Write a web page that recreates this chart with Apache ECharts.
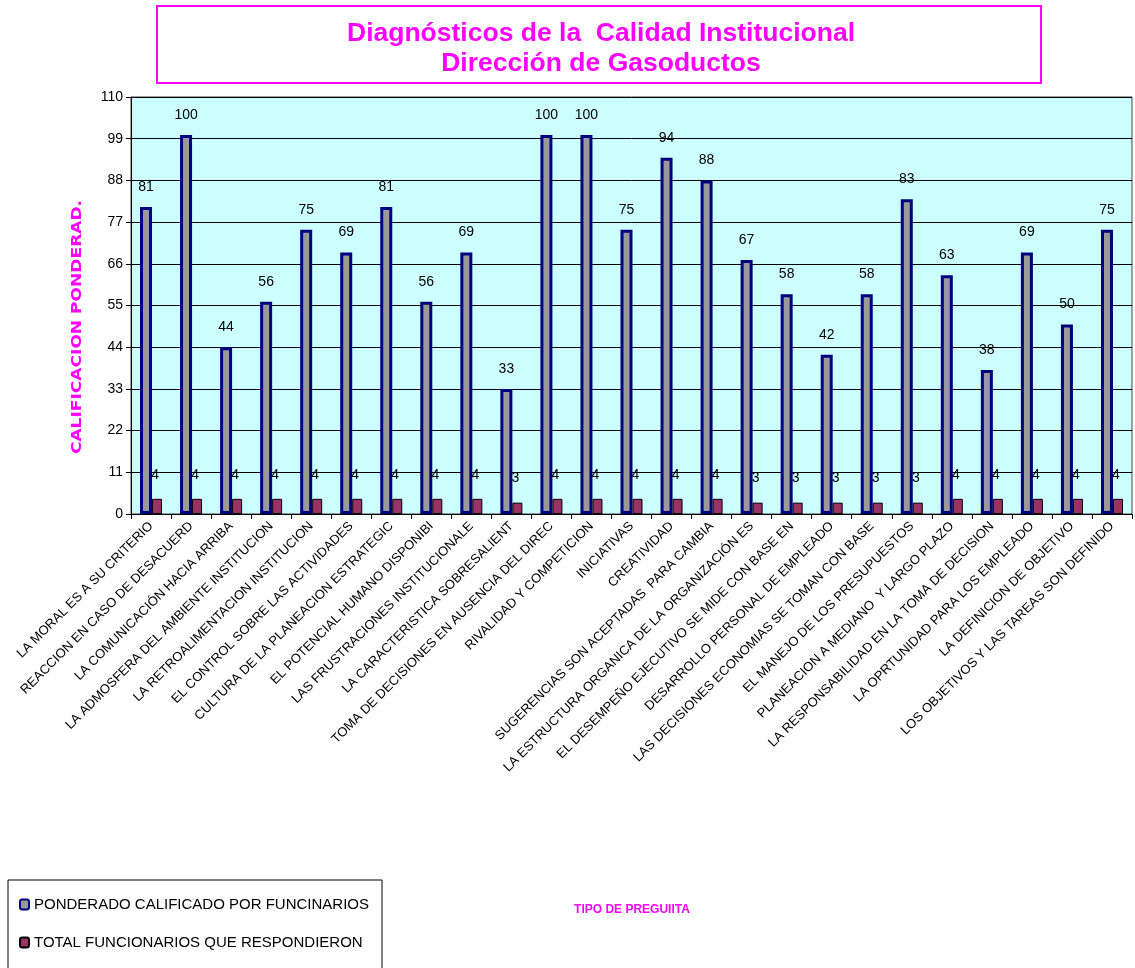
<!DOCTYPE html>
<html>
<head>
<meta charset="utf-8">
<script src="https://cdn.jsdelivr.net/npm/echarts@6/dist/echarts.min.js"></script>
<style>html,body{margin:0;padding:0;background:#fff}#c{width:1135px;height:968px}</style>
</head>
<body>
<div id="c"></div>
<script>
const categories = [
  "LA MORAL ES A SU CRITERIO",
  "REACCION EN CASO DE DESACUERD",
  "LA COMUNICACIÓN HACIA ARRIBA",
  "LA ADMOSFERA DEL AMBIENTE INSTITUCION",
  "LA RETROALIMENTACION INSTITUCION",
  "EL CONTROL SOBRE LAS ACTIVIDADES",
  "CULTURA DE LA PLANEACION ESTRATEGIC",
  "EL POTENCIAL HUMANO DISPONIBI",
  "LAS FRUSTRACIONES INSTITUCIONALE",
  "LA CARACTERISTICA SOBRESALIENT",
  "TOMA DE DECISIONES EN AUSENCIA DEL DIREC",
  "RIVALIDAD Y COMPETICION",
  "INICIATIVAS",
  "CREATIVIDAD",
  "SUGERENCIAS SON ACEPTADAS  PARA CAMBIA",
  "LA ESTRUCTURA ORGANICA DE LA ORGANIZACIÓN ES",
  "EL DESEMPEÑO EJECUTIVO SE MIDE CON BASE EN",
  "DESARROLLO PERSONAL DE EMPLEADO",
  "LAS DECISIONES ECONOMIAS SE TOMAN CON BASE",
  "EL MANEJO DE LOS PRESUPUESTOS",
  "PLANEACION A MEDIANO  Y LARGO PLAZO",
  "LA RESPONSABILIDAD EN LA TOMA DE DECISION",
  "LA OPRTUNIDAD PARA LOS EMPLEADO",
  "LA DEFINICION DE OBJETIVO",
  "LOS OBJETIVOS Y LAS TAREAS SON DEFINIDO"
];
const ponderado = [81,100,44,56,75,69,81,56,69,33,100,100,75,94,88,67,58,42,58,83,63,38,69,50,75];
const funcionarios = [4,4,4,4,4,4,4,4,4,3,4,4,4,4,4,3,3,3,3,3,4,4,4,4,4];
const seriesNames = ["PONDERADO CALIFICADO POR FUNCINARIOS","TOTAL FUNCIONARIOS QUE RESPONDIERON"];
const titleLines = ["Diagnósticos de la  Calidad Institucional","Dirección de Gasoductos"];
const yAxisTitle = "CALIFICACION PONDERAD.";
const xAxisTitle = "TIPO DE PREGUIITA";

const chart = echarts.init(document.getElementById('c'));
const FONT = '"Liberation Sans", Arial, sans-serif';
chart.setOption({
  animation: false,
  backgroundColor: '#ffffff',
  graphic: [
    {type:'rect', shape:{x:157,y:6,width:884,height:77}, style:{fill:'#fff',stroke:'#ff00ff',lineWidth:2}},
    {type:'text', x:601, y:34, style:{text:titleLines[0], font:'bold 26.5px '+FONT, fill:'#ff00ff', align:'center', verticalAlign:'middle'}},
    {type:'text', x:601, y:64, style:{text:titleLines[1], font:'bold 26.5px '+FONT, fill:'#ff00ff', align:'center', verticalAlign:'middle'}},
    {type:'text', x:77, y:327, rotation:Math.PI/2, scaleX:1.1, scaleY:0.92, style:{text:yAxisTitle, font:'bold 15.5px "DejaVu Sans", sans-serif', fill:'#ff00ff', align:'center', verticalAlign:'middle'}},
    {type:'text', x:632, y:910, style:{text:xAxisTitle, font:'bold 12px '+FONT, fill:'#ff00ff', align:'center', verticalAlign:'middle'}},
    {type:'rect', shape:{x:8,y:880,width:374,height:100}, style:{fill:'#fff',stroke:'#000',lineWidth:1}, z:-1}
  ],
  legend: {
    orient: 'vertical', left: 14, top: 892, itemWidth: 9, itemHeight: 10, itemGap: 23, itemTextGap: 3,
    textStyle: {fontFamily: FONT, fontSize: 15, color: '#000'},
    data: seriesNames
  },
  grid: {left:131, top:97, right:3, bottom:454, show:true, backgroundColor:'#ccffff', borderColor:'#444', borderWidth:1},
  xAxis: {
    type:'category', data: categories,
    axisLine:{lineStyle:{color:'#000'}},
    axisTick:{show:true, length:5, lineStyle:{color:'#000'}},
    axisLabel:{rotate:45, interval:0, fontFamily:FONT, fontSize:13, color:'#000', margin:10}
  },
  yAxis: {
    type:'value', min:0, max:110, interval:11,
    axisLine:{show:true, lineStyle:{color:'#000'}},
    axisTick:{show:true, length:5, lineStyle:{color:'#000'}},
    axisLabel:{fontFamily:FONT, fontSize:14, color:'#000', margin:8},
    splitLine:{lineStyle:{color:'#000', width:1}}
  },
  series: [
    {
      name: seriesNames[0], type:'bar', data: ponderado, barWidth: 12, barGap: '0%',
      itemStyle:{color:'#999999', borderColor:'#000080', borderWidth:3},
      label:{show:true, position:'top', distance:13, fontFamily:FONT, fontSize:14, color:'#000'}
    },
    {
      name: seriesNames[1], type:'bar', data: funcionarios, barWidth: 10,
      itemStyle:{color:'#993366', borderColor:'#000', borderWidth:1},
      label:{show:true, position:'top', distance:17, offset:[-2,0], fontFamily:FONT, fontSize:14, color:'#000'}
    }
  ]
});
</script>
</body>
</html>
